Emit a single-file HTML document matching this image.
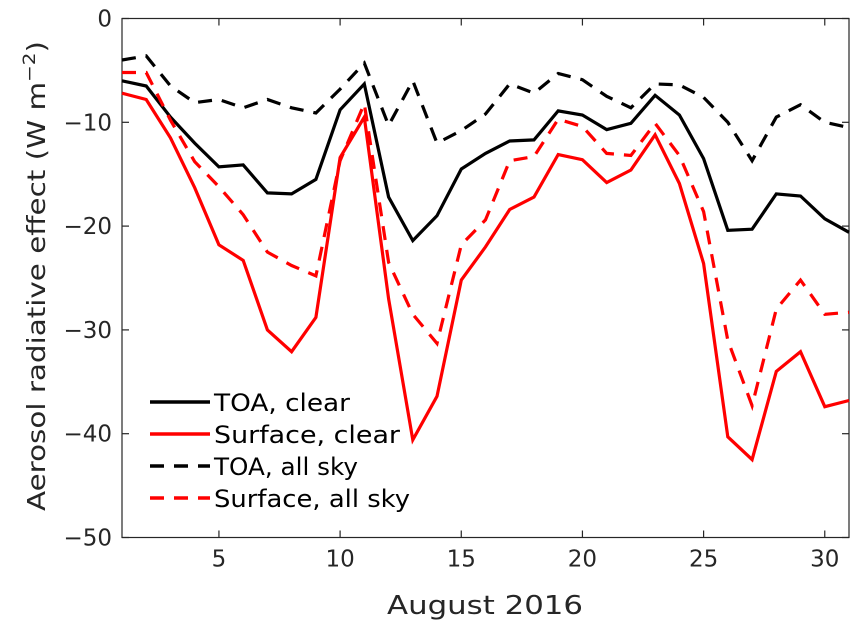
<!DOCTYPE html>
<html><head><meta charset="utf-8"><style>
body{margin:0;background:#fff;}
svg{display:block;font-family:"DejaVu Sans","Liberation Sans",sans-serif;}
</style></head><body>
<svg id="chart" width="859" height="632">
<rect x="122" y="18.5" width="727" height="519" fill="#fff" stroke="#262626" stroke-width="1.2"/>
<g id="ticks"></g>
<g id="series"></g>
<text x="485" y="614" font-size="26" text-anchor="middle" textLength="196" lengthAdjust="spacingAndGlyphs" fill="#262626">August 2016</text>
<text transform="translate(45,276) rotate(-90)" font-size="25" text-anchor="middle" textLength="470" lengthAdjust="spacingAndGlyphs" fill="#262626">Aerosol radiative effect (W m<tspan dy="-10" font-size="17">−2</tspan><tspan dy="10">)</tspan></text>
<g id="legend"></g>
</svg>
<script>
const days=[1,2,3,4,5,6,7,8,9,10,11,12,13,14,15,16,17,18,19,20,21,22,23,24,25,26,27,28,29,30,31];
const toaClear=[-6,-6.5,-9.5,-12,-14.3,-14.1,-16.8,-16.9,-15.5,-8.8,-6.3,-17.2,-21.4,-19,-14.5,-13,-11.8,-11.7,-8.9,-9.3,-10.7,-10.1,-7.4,-9.3,-13.5,-20.4,-20.3,-16.9,-17.1,-19.3,-20.6];
const sfcClear=[-7.2,-7.8,-11.5,-16.3,-21.8,-23.3,-30,-32.1,-28.8,-13.4,-9.5,-27,-40.6,-36.4,-25.2,-22,-18.4,-17.2,-13.1,-13.6,-15.8,-14.6,-11.2,-15.9,-23.6,-40.3,-42.5,-34,-32.1,-37.4,-36.8];
const toaAll=[-4,-3.6,-6.5,-8.1,-7.8,-8.6,-7.8,-8.6,-9.1,-6.8,-4.3,-10.3,-6,-12,-10.8,-9.2,-6.3,-7.2,-5.3,-5.9,-7.5,-8.6,-6.3,-6.4,-7.6,-10,-13.7,-9.5,-8.3,-10,-10.5];
const sfcAll=[-5.2,-5.2,-9.8,-13.8,-16.2,-18.9,-22.5,-23.8,-24.8,-13.7,-8.2,-23.5,-28.5,-31.3,-21.8,-19.4,-13.7,-13.3,-9.7,-10.4,-13,-13.2,-10.1,-13.2,-18.6,-31,-37.3,-28,-25.2,-28.5,-28.3];
const xTicks=[5,10,15,20,25,30];
const yTicks=[0,-10,-20,-30,-40,-50];
const seriesNames=["TOA, clear","Surface, clear","TOA, all sky","Surface, all sky"];
const legendWidths=[136,186,144,196];
const NS="http://www.w3.org/2000/svg";
const X0=122,X1=849,Y0=18.5,Y1=537.5;
function xs(d){return X0+(d-1)/30*(X1-X0);}
function ys(v){return Y0+(0-v)/50*(Y1-Y0);}
function mk(tag,attrs,parent){const e=document.createElementNS(NS,tag);for(const k in attrs)e.setAttribute(k,attrs[k]);parent.appendChild(e);return e;}
const tg=document.getElementById('ticks');
xTicks.forEach(t=>{
 const l=mk('line',{x1:xs(t),x2:xs(t),y1:Y1,y2:Y1-7,stroke:'#262626','stroke-width':1.2},tg);
 
 
 const l2=mk('line',{x1:xs(t),x2:xs(t),y1:Y0,y2:Y0+7,stroke:'#262626','stroke-width':1.2},tg);
 
 
 const tx=mk('text',{x:xs(t),y:Y1+29,'font-size':23,'text-anchor':'middle',fill:'#262626'},tg);
 tx.textContent=t;
 
 
});
yTicks.forEach(t=>{
 const l=mk('line',{x1:X0,x2:X0+7,y1:ys(t),y2:ys(t),stroke:'#262626','stroke-width':1.2},tg);
 
 
 const l2=mk('line',{x1:X1,x2:X1-7,y1:ys(t),y2:ys(t),stroke:'#262626','stroke-width':1.2},tg);
 
 
 const tx=mk('text',{x:X0-10,y:ys(t)+8,'font-size':23,'text-anchor':'end',fill:'#262626'},tg);
 tx.textContent=t===0?'0':'−'+Math.abs(t);
 
 
});
const sg=document.getElementById('series');
const defs=[[toaClear,'#000',null,'toa-clear-line'],[sfcClear,'#f00',null,'surface-clear-line'],[toaAll,'#000','14 10','toa-all-sky-line'],[sfcAll,'#f00','14 10','surface-all-sky-line']];
defs.forEach(([vals,c,dash,name])=>{
 const pts=vals.map((v,i)=>xs(days[i]).toFixed(1)+','+ys(v).toFixed(1)).join(' ');
 const a={points:pts,fill:'none',stroke:c,'stroke-width':3.2,'stroke-linejoin':'miter'};
 if(dash)a['stroke-dasharray']=dash;
 const p=mk('polyline',a,sg);
 
 
});
const lg=document.getElementById('legend');
defs.forEach(([vals,c,dash,name],i)=>{
 const y=402+i*32;
 const a={x1:150,x2:210,y1:y,y2:y,stroke:c,'stroke-width':3.5};
 if(dash)a['stroke-dasharray']='14 10';
 const l=mk('line',a,lg);
 
 
 const tx=mk('text',{x:214,y:y+9,'font-size':24,fill:'#000',textLength:legendWidths[i],lengthAdjust:'spacingAndGlyphs'},lg);
 tx.textContent=seriesNames[i];
 
 
});
</script>
</body></html>
